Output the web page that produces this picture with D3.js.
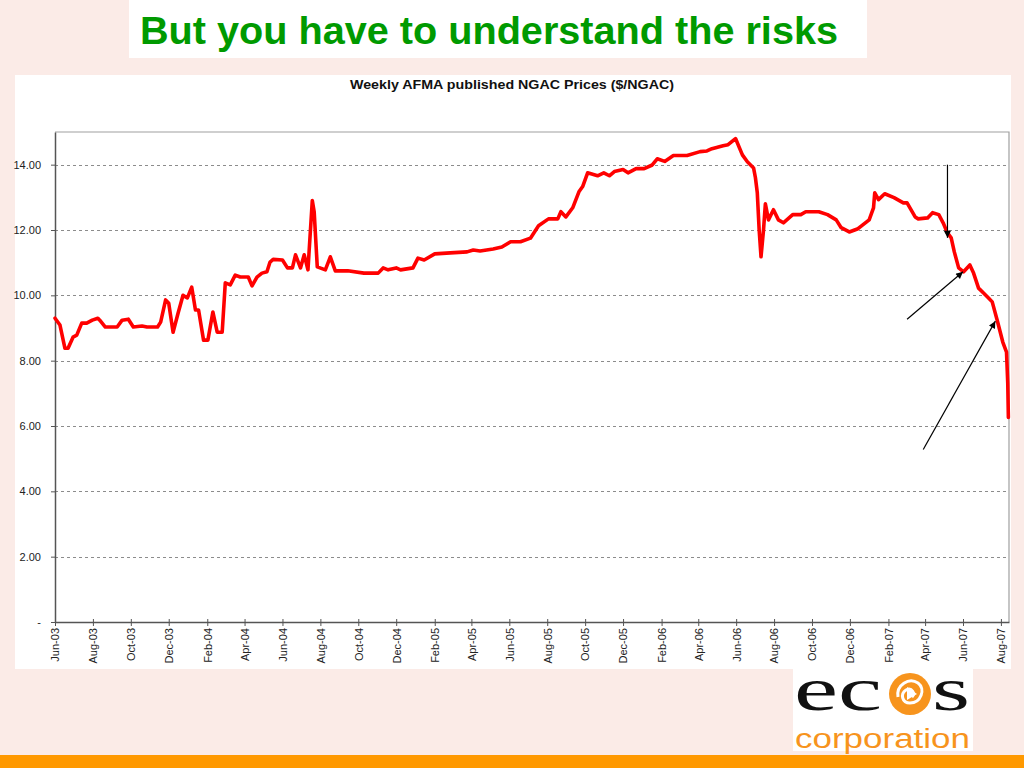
<!DOCTYPE html>
<html>
<head>
<meta charset="utf-8">
<script src="https://cdn.jsdelivr.net/npm/d3@7"></script>
<style>
  html, body { margin: 0; padding: 0; background: #fbebe7; }
  svg { display: block; }
</style>
</head>
<body>
<svg id="chart" width="1024" height="768"></svg>
<script>
// ---- data ----
const slideTitle = "But you have to understand the risks";
const chartTitle = "Weekly AFMA published NGAC Prices ($/NGAC)";

const dates = [
 "2003-06-01","2003-06-09","2003-06-17","2003-06-22","2003-06-30","2003-07-06","2003-07-14","2003-07-22","2003-07-31",
 "2003-08-09","2003-08-12","2003-08-21","2003-09-09","2003-09-17","2003-09-27","2003-10-05","2003-10-19","2003-10-27",
 "2003-11-13","2003-11-18","2003-11-26","2003-12-01","2003-12-08","2003-12-16","2003-12-24","2003-12-31",
 "2004-01-07","2004-01-13","2004-01-18","2004-01-26","2004-02-02","2004-02-10","2004-02-17","2004-02-25",
 "2004-03-01","2004-03-09","2004-03-17","2004-03-25","2004-04-07","2004-04-13","2004-04-21","2004-04-29",
 "2004-05-07","2004-05-12","2004-05-17","2004-06-01","2004-06-09","2004-06-17","2004-06-22","2004-06-30",
 "2004-07-06","2004-07-12","2004-07-19","2004-07-22","2004-07-27","2004-08-09","2004-08-17","2004-08-25",
 "2004-09-14","2004-10-10","2004-11-02","2004-11-10","2004-11-18","2004-12-01","2004-12-08","2004-12-28",
 "2005-01-05","2005-01-15","2005-02-01","2005-02-26","2005-03-25","2005-04-04","2005-04-15","2005-05-06",
 "2005-05-20","2005-06-03","2005-06-19","2005-07-05","2005-07-18","2005-08-03","2005-08-18","2005-08-23",
 "2005-08-31","2005-09-11","2005-09-21","2005-09-27","2005-10-05","2005-10-21","2005-10-31","2005-11-09",
 "2005-11-17","2005-12-01","2005-12-09","2005-12-22","2006-01-04","2006-01-17","2006-01-25","2006-02-06",
 "2006-02-20","2006-03-14","2006-04-04","2006-04-15","2006-04-23","2006-05-11","2006-05-19","2006-05-31",
 "2006-06-11","2006-06-19","2006-06-29","2006-07-02","2006-07-05","2006-07-08","2006-07-11","2006-07-15",
 "2006-07-18","2006-07-23","2006-07-31","2006-08-08","2006-08-16","2006-08-31","2006-09-13","2006-09-21",
 "2006-10-12","2006-10-26","2006-11-09","2006-11-17","2006-11-30","2006-12-14","2007-01-01","2007-01-08",
 "2007-01-10","2007-01-16","2007-01-26","2007-02-10","2007-02-25","2007-03-03","2007-03-16","2007-03-21",
 "2007-04-05","2007-04-13","2007-04-23","2007-04-30","2007-05-07","2007-05-13","2007-05-18","2007-05-25",
 "2007-06-02","2007-06-12","2007-06-18","2007-06-26","2007-07-04","2007-07-12","2007-07-18","2007-07-26",
 "2007-08-04","2007-08-10","2007-08-12","2007-08-13"
];
const prices = [
 9.30,9.09,8.38,8.38,8.72,8.78,9.15,9.15,9.24,
 9.30,9.24,9.03,9.03,9.24,9.27,9.03,9.06,9.03,
 9.03,9.18,9.86,9.76,8.87,9.45,10.00,9.92,
 10.25,9.55,9.55,8.63,8.63,9.49,8.87,8.87,
 10.38,10.32,10.62,10.56,10.56,10.29,10.56,10.68,
 10.72,11.02,11.10,11.08,10.84,10.84,11.24,10.84,
 11.24,10.78,12.90,12.56,10.87,10.78,11.18,10.75,
 10.75,10.68,10.68,10.84,10.78,10.84,10.78,10.84,
 11.14,11.08,11.27,11.30,11.33,11.39,11.36,11.42,
 11.48,11.64,11.64,11.75,12.13,12.34,12.34,12.56,
 12.40,12.68,13.17,13.33,13.75,13.66,13.75,13.66,
 13.79,13.85,13.75,13.88,13.88,13.99,14.18,14.10,
 14.28,14.28,14.40,14.42,14.49,14.58,14.61,14.80,
 14.30,14.09,13.90,13.60,13.14,12.00,11.18,12.00,
 12.80,12.31,12.62,12.31,12.22,12.47,12.47,12.56,
 12.56,12.47,12.31,12.07,11.94,12.04,12.31,12.68,
 13.14,12.93,13.11,12.99,12.83,12.83,12.40,12.34,
 12.37,12.53,12.47,12.22,11.91,11.76,11.33,10.84,
 10.72,10.93,10.68,10.22,10.07,9.92,9.80,9.24,
 8.57,8.26,7.31,6.26
];
const xTickLabels = ["Jun-03","Aug-03","Oct-03","Dec-03","Feb-04","Apr-04","Jun-04","Aug-04","Oct-04","Dec-04",
 "Feb-05","Apr-05","Jun-05","Aug-05","Oct-05","Dec-05","Feb-06","Apr-06","Jun-06","Aug-06","Oct-06","Dec-06",
 "Feb-07","Apr-07","Jun-07","Aug-07"];
const yTickValues = [0, 2, 4, 6, 8, 10, 12, 14];
const xDomain = ["2003-06-01", "2007-08-14"];
const yDomain = [0, 15];
// annotation arrows: [date, value] of tail and of head
const arrowsFrom = [["2007-05-07", 14.0], ["2007-03-03", 9.27], ["2007-03-29", 5.28]];
const arrowsTo   = [["2007-05-07", 11.76], ["2007-06-01", 10.72], ["2007-07-23", 9.21]];

// ---- drawing ----
const parse = d3.timeParse("%Y-%m-%d");
const parseTick = d3.timeParse("%b-%y");
const svg = d3.select("#chart");

const plot = { left: 55, right: 1009, top: 132, bottom: 622 };
const x = d3.scaleTime().domain(xDomain.map(parse)).range([plot.left, plot.right]);
const y = d3.scaleLinear().domain(yDomain).range([plot.bottom, plot.top]);

// background
svg.append("rect").attr("width", 1024).attr("height", 768).attr("fill", "#fbebe7");
// title box
svg.append("rect").attr("x", 129).attr("y", 0).attr("width", 738).attr("height", 58).attr("fill", "#ffffff");
svg.append("text")
  .attr("x", 140).attr("y", 44)
  .attr("font-family", "'Liberation Sans', Arial, sans-serif")
  .attr("font-weight", "bold").attr("font-size", 38)
  .attr("textLength", 698).attr("lengthAdjust", "spacingAndGlyphs")
  .attr("fill", "#009a00")
  .text(slideTitle);

// chart area
svg.append("rect").attr("x", 15).attr("y", 75).attr("width", 996).attr("height", 594).attr("fill", "#ffffff");
svg.append("text")
  .attr("x", 512).attr("y", 89).attr("text-anchor", "middle")
  .attr("font-family", "'Liberation Sans', Arial, sans-serif")
  .attr("font-weight", "bold").attr("font-size", 12.5)
  .attr("textLength", 324).attr("lengthAdjust", "spacingAndGlyphs")
  .attr("fill", "#111")
  .text(chartTitle);

// plot frame (top & right light gray)
svg.append("path")
  .attr("d", `M${plot.left},${plot.top}H${plot.right}V${plot.bottom}`)
  .attr("fill", "none").attr("stroke", "#a0a0a0").attr("stroke-width", 1.2);

// gridlines
svg.append("g").selectAll("line")
  .data(yTickValues.filter(v => v > 0))
  .join("line")
  .attr("x1", plot.left).attr("x2", plot.right)
  .attr("y1", d => Math.round(y(d)) + 0.5).attr("y2", d => Math.round(y(d)) + 0.5)
  .attr("stroke", "#8c8c8c").attr("stroke-width", 1).attr("stroke-dasharray", "3,3");

// y axis
const yAxis = d3.axisLeft(y).tickValues(yTickValues)
  .tickFormat(d => d === 0 ? "-" : d3.format(".2f")(d)).tickSizeInner(4).tickSizeOuter(0).tickPadding(10);
const gy = svg.append("g").attr("transform", `translate(${plot.left},0)`).call(yAxis);
gy.select(".domain").attr("stroke", "#555").attr("stroke-width", 1.5);
gy.selectAll(".tick line").attr("stroke", "#555");
gy.selectAll("text").attr("font-family", "'Liberation Sans', Arial, sans-serif").attr("font-size", 11).attr("fill", "#222");

// x axis
const xAxis = d3.axisBottom(x).tickValues(xTickLabels.map(parseTick))
  .tickFormat(d3.timeFormat("%b-%y")).tickSizeInner(4).tickSizeOuter(0).tickPadding(4);
const gx = svg.append("g").attr("transform", `translate(0,${plot.bottom})`).call(xAxis);
gx.select(".domain").attr("stroke", "#555").attr("stroke-width", 1.5);
gx.selectAll(".tick line").attr("stroke", "#555").attr("y1", -3);
gx.selectAll("text")
  .attr("font-family", "'Liberation Sans', Arial, sans-serif").attr("font-size", 11).attr("fill", "#222")
  .attr("text-anchor", "end").attr("dy", "0.35em")
  .attr("transform", "translate(0,6) rotate(-90)")
  .attr("x", 0).attr("y", 0);

// line
const series = dates.map((d, i) => ({ date: parse(d), value: prices[i] }));
svg.append("path")
  .datum(series)
  .attr("fill", "none").attr("stroke", "#ff0000").attr("stroke-width", 3.6)
  .attr("stroke-linejoin", "round").attr("stroke-linecap", "round")
  .attr("d", d3.line().x(d => x(d.date)).y(d => y(d.value)));

// arrows
const defs = svg.append("defs");
defs.append("marker").attr("id", "ah").attr("viewBox", "0 0 10 10")
  .attr("refX", 10).attr("refY", 5).attr("markerWidth", 9).attr("markerHeight", 7)
  .attr("markerUnits", "userSpaceOnUse").attr("orient", "auto")
  .append("path").attr("d", "M0,0L10,5L0,10z").attr("fill", "#000");
svg.append("g").selectAll("line")
  .data(arrowsFrom.map((f, i) => ({ f, t: arrowsTo[i] })))
  .join("line")
  .attr("x1", d => x(parse(d.f[0]))).attr("y1", d => y(d.f[1]))
  .attr("x2", d => x(parse(d.t[0]))).attr("y2", d => y(d.t[1]))
  .attr("stroke", "#000").attr("stroke-width", 1.2).attr("marker-end", "url(#ah)");

// logo
const logo = svg.append("g");
logo.append("rect").attr("x", 793).attr("y", 665).attr("width", 180).attr("height", 86).attr("fill", "#ffffff");
logo.append("text").attr("x", 794).attr("y", 700)
  .attr("font-family", "'Liberation Serif', 'DejaVu Serif', serif").attr("font-size", 56)
  .attr("textLength", 88).attr("lengthAdjust", "spacingAndGlyphs")
  .attr("transform", "translate(0,-60) scale(1,1.1)")
  .attr("fill", "#111").text("ec");
logo.append("text").attr("x", 932).attr("y", 700)
  .attr("font-family", "'Liberation Serif', 'DejaVu Serif', serif").attr("font-size", 56)
  .attr("textLength", 38).attr("lengthAdjust", "spacingAndGlyphs")
  .attr("transform", "translate(0,-60) scale(1,1.1)")
  .attr("fill", "#111").text("s");
logo.append("circle").attr("cx", 910).attr("cy", 694).attr("r", 21).attr("fill", "#f7941d");
logo.append("path")
  .attr("d", "M898,697 C896,685 909,677 918,683 C926,689 921,703 910,703 C902,703 900,694 906,690 C912,687 916,694 912,697")
  .attr("fill", "none").attr("stroke", "#ffffff").attr("stroke-width", 3);
logo.append("path").attr("d", "M907,687 L917,694 L907,700 Z").attr("fill", "#ffffff");
logo.append("text").attr("x", 795).attr("y", 748)
  .attr("font-family", "'Liberation Sans', Arial, sans-serif").attr("font-size", 27)
  .attr("textLength", 175).attr("lengthAdjust", "spacingAndGlyphs")
  .attr("fill", "#f7941d").text("corporation");

// bottom orange bar
svg.append("rect").attr("x", 0).attr("y", 755).attr("width", 1024).attr("height", 13).attr("fill", "#ff9900");
</script>
</body>
</html>
